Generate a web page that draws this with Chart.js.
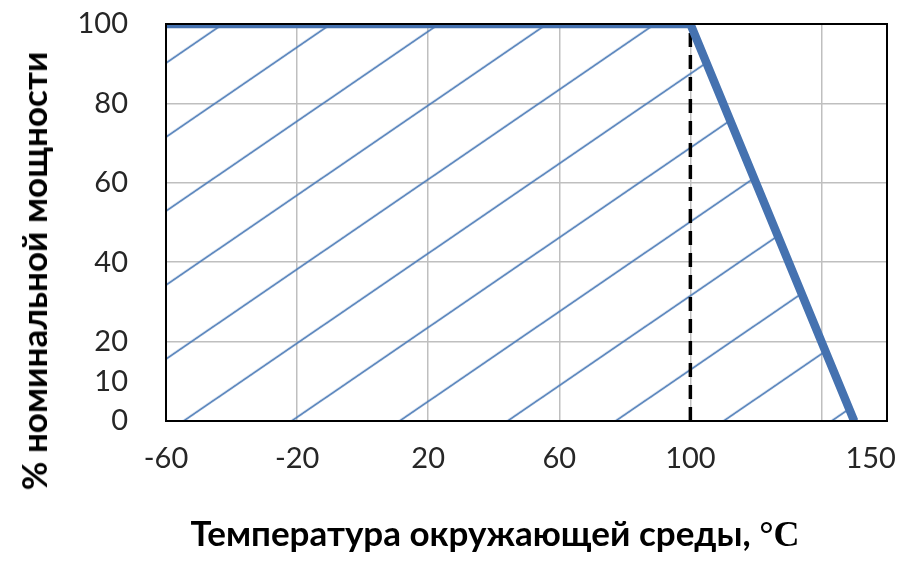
<!DOCTYPE html>
<html>
<head>
<meta charset="utf-8">
<script src="https://cdn.jsdelivr.net/npm/chart.js@4/dist/chart.umd.min.js"></script>
<style>
body{margin:0;background:#fff}
#wrap{position:relative;width:918px;height:563px;overflow:hidden}
#grafico{position:absolute;left:0;top:0}
.titulo{position:absolute;font-family:Lato,sans-serif;font-weight:bold;color:#000;white-space:nowrap;transform-origin:center}
#tituloX{left:495px;top:533px;font-size:35px;transform:translate(-50%,-50%)}
#tituloY{left:33px;top:271px;font-size:35px;transform:translate(-50%,-50%) rotate(-90deg)}
.grado{font-family:"Liberation Serif",serif;font-weight:bold;font-size:36px}
</style>
</head>
<body>
<div id="wrap">
  <canvas id="grafico" width="918" height="563"></canvas>
  <div class="titulo" id="tituloX">Температура окружающей среды, <span class="grado">°C</span></div>
  <div class="titulo" id="tituloY">% номинальной мощности</div>
</div>
<script>
// curva de reduccion de potencia vs temperatura
const temperatura = [-60, 100, 150]
const potencia = [100, 100, 0]
const limiteX = [100, 100]
const limiteY = [0, 100]
const ticksX = [-60, -20, 20, 60, 100, 140, 155]
const etiquetasX = ['-60', '-20', '20', '60', '100', '', '150']
const ticksY = [0, 10, 20, 40, 60, 80, 100]

const azul = '#4572b0'
const canvas = document.getElementById('grafico')
const ctx = canvas.getContext('2d')

// rayado diagonal del area bajo la curva
function crearRayado(c2d) {
    const w = 108, h = 74, s = h / w
    const tile = document.createElement('canvas')
    tile.width = w
    tile.height = h
    const p = tile.getContext('2d')
    p.strokeStyle = '#4c7bb7'
    p.lineWidth = 1.8
    for (let k = 0; k <= 2; k++) {
        p.beginPath()
        p.moveTo(-10, k * h + 10 * s)
        p.lineTo(w + 10, k * h - (w + 10) * s)
        p.stroke()
    }
    const pat = c2d.createPattern(tile, 'repeat')
    pat.setTransform(new DOMMatrix().translate(0, 28.7))
    return pat
}

const marco = {
    id: 'marco',
    afterDatasetsDraw(chart) {
        const a = chart.chartArea
        const c = chart.ctx
        c.save()
        c.strokeStyle = '#000'
        c.lineWidth = 2
        c.strokeRect(a.left, a.top, a.right - a.left, a.bottom - a.top)
        c.restore()
    }
}

const fuente = { family: 'Lato', size: 29 }

const myChart = new Chart(ctx, {
    type: 'line',
    data: {
        datasets: [{
            data: temperatura.map((t, i) => ({ x: t, y: potencia[i] })),
            borderColor: azul,
            borderWidth: 8.5,
            backgroundColor: crearRayado(ctx),
            fill: 'origin',
            pointRadius: 0,
            tension: 0,
            clip: 0
        }, {
            data: limiteX.map((t, i) => ({ x: t, y: limiteY[i] })),
            borderColor: '#000',
            borderWidth: 3.5,
            borderDash: [14, 8],
            pointRadius: 0,
            fill: false,
            clip: 0
        }]
    },
    options: {
        responsive: false,
        animation: false,
        layout: { padding: { top: 24, right: 31, left: 0, bottom: 0 } },
        plugins: {
            legend: { display: false },
            tooltip: { enabled: false },
            filler: { drawTime: 'beforeDatasetsDraw' }
        },
        scales: {
            x: {
                type: 'linear',
                min: -60,
                max: 160,
                afterBuildTicks: s => { s.ticks = ticksX.map(v => ({ value: v })) },
                afterFit: s => { s.height = 142; s.paddingLeft = 0; s.paddingRight = 0 },
                border: { display: false },
                grid: {
                    drawTicks: false,
                    lineWidth: 1.5,
                    color: c => (c.tick && c.tick.value === 155) ? 'rgba(0,0,0,0)' : '#bfbfbf'
                },
                ticks: {
                    autoSkip: false,
                    maxRotation: 0,
                    padding: 20,
                    color: '#262626',
                    font: fuente,
                    callback: (v, i) => etiquetasX[i]
                }
            },
            y: {
                min: 0,
                max: 100,
                afterBuildTicks: s => { s.ticks = ticksY.map(v => ({ value: v })) },
                afterFit: s => { s.width = 166; s.paddingTop = 0; s.paddingBottom = 0 },
                border: { display: false },
                grid: {
                    drawTicks: false,
                    lineWidth: 1.5,
                    color: c => (c.tick && c.tick.value === 10) ? 'rgba(0,0,0,0)' : '#bfbfbf'
                },
                ticks: {
                    autoSkip: false,
                    padding: 38,
                    color: '#262626',
                    font: fuente,
                    callback: v => v
                }
            }
        }
    },
    plugins: [marco]
})
</script>
</body>
</html>
